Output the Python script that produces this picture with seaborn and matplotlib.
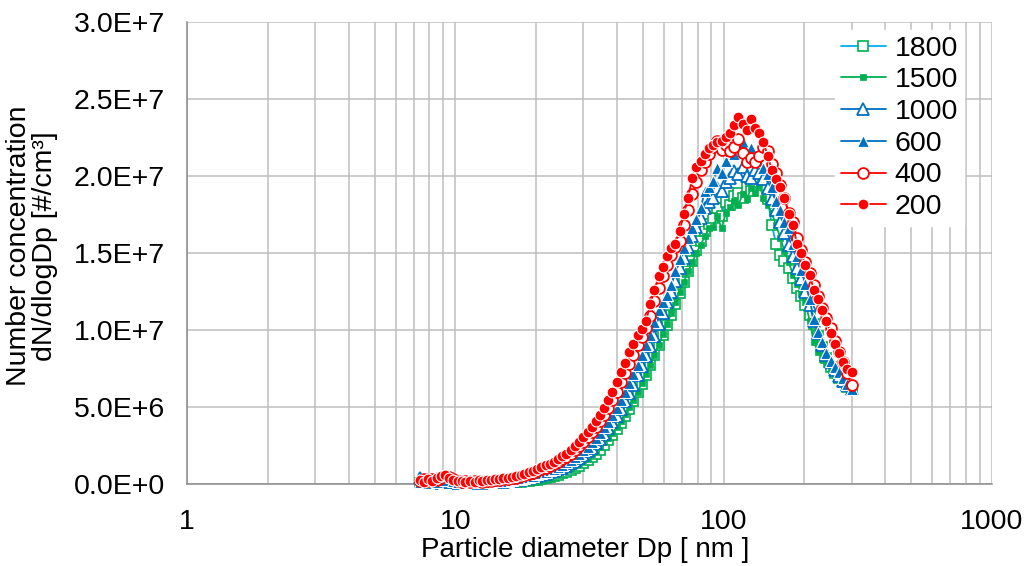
import matplotlib
matplotlib.use("Agg")
import numpy as np
import pandas as pd
import matplotlib.pyplot as plt
from matplotlib.ticker import FixedLocator, FuncFormatter, NullFormatter
import seaborn as sns

# Particle diameter bins [nm]
diameter_nm = [
    7.37, 7.64, 7.91, 8.20, 8.51, 8.82, 9.14, 9.47, 9.82, 10.2,
    10.6, 10.9, 11.3, 11.8, 12.2, 12.6, 13.1, 13.6, 14.1, 14.6,
    15.1, 15.7, 16.3, 16.8, 17.5, 18.1, 18.8, 19.5, 20.2, 20.9,
    21.7, 22.5, 23.3, 24.1, 25.0, 25.9, 26.9, 27.9, 28.9, 30.0,
    31.1, 32.2, 33.4, 34.6, 35.9, 37.2, 38.5, 40.0, 41.4, 42.9,
    44.5, 46.1, 47.8, 49.6, 51.4, 53.3, 55.2, 57.3, 59.4, 61.5,
    63.8, 66.1, 68.5, 71.0, 73.7, 76.4, 79.1, 82.0, 85.1, 88.2,
    91.4, 94.7, 98.2, 101.8, 105.5, 109.4, 113.4, 117.6, 121.9, 126.3,
    131.0, 135.8, 140.7, 145.9, 151.2, 156.8, 162.5, 168.5, 174.7, 181.1,
    187.7, 194.6, 201.7, 209.1, 216.7, 224.7, 232.9, 241.4, 250.3, 259.5,
    269.0, 278.8, 289.0, 299.6,
]

# dN/dlogDp in units of 1E+6 #/cm3
conc_1800 = [
    0.05, 0.20, 0.08, 0.15, 0.05, 0.22, 0.10, 0.28, 0.08, 0.12,
    0.05, 0.08, 0.04, 0.06, 0.05, 0.06, 0.06, 0.07, 0.07, 0.08,
    0.09, 0.10, 0.11, 0.13, 0.15, 0.17, 0.20, 0.24, 0.28, 0.33,
    0.38, 0.45, 0.52, 0.60, 0.70, 0.80, 0.92, 1.05, 1.20, 1.36,
    1.55, 1.75, 1.98, 2.24, 2.52, 2.84, 3.18, 3.56, 3.98, 4.42,
    4.90, 5.42, 5.95, 6.52, 7.10, 7.72, 8.35, 9.00, 9.65, 10.3,
    11.0, 11.7, 12.4, 13.1, 13.8, 14.5, 15.2, 15.8, 16.4, 16.9,
    17.3, 17.9, 17.4, 18.3, 18.1, 18.7, 18.9, 18.6, 19.3, 19.0,
    19.6, 19.9, 19.4, 18.5, 16.8, 15.6, 14.9, 14.5, 14.0, 13.4,
    12.7, 12.2, 11.6, 11.0, 10.4, 9.6, 8.9, 8.2, 7.6, 7.2,
    6.9, 6.6, 6.3, 6.1,
]
conc_1500 = [
    0.15, 0.05, 0.20, 0.10, 0.25, 0.12, 0.30, 0.10, 0.18, 0.05,
    0.10, 0.06, 0.08, 0.05, 0.08, 0.07, 0.09, 0.08, 0.10, 0.10,
    0.12, 0.13, 0.15, 0.18, 0.21, 0.24, 0.28, 0.33, 0.38, 0.44,
    0.50, 0.57, 0.65, 0.74, 0.84, 0.95, 1.07, 1.21, 1.36, 1.53,
    1.72, 1.93, 2.16, 2.42, 2.70, 3.00, 3.34, 3.70, 4.10, 4.52,
    4.98, 5.48, 6.00, 6.55, 7.15, 7.75, 8.40, 9.05, 9.75, 10.4,
    11.1, 11.8, 12.5, 13.1, 13.8, 14.4, 15.0, 15.5, 16.1, 16.6,
    16.7, 17.4, 16.6, 17.6, 18.0, 18.4, 18.1, 18.8, 18.5, 19.2,
    18.9, 19.4, 18.6, 18.1, 17.6, 16.8, 16.0, 15.1, 14.4, 13.6,
    13.0, 12.4, 11.8, 10.6, 9.2, 8.6, 8.1, 7.8, 7.4, 7.1,
    6.9, 6.6, 6.4, 6.2,
]
conc_1000 = [
    0.40, 0.10, 0.25, 0.05, 0.30, 0.15, 0.20, 0.10, 0.30, 0.08,
    0.12, 0.05, 0.10, 0.08, 0.10, 0.09, 0.12, 0.11, 0.14, 0.13,
    0.16, 0.18, 0.21, 0.24, 0.28, 0.33, 0.38, 0.44, 0.51, 0.58,
    0.66, 0.75, 0.84, 0.95, 1.07, 1.20, 1.35, 1.52, 1.70, 1.90,
    2.12, 2.37, 2.64, 2.94, 3.26, 3.62, 4.00, 4.42, 4.88, 5.38,
    5.90, 6.45, 7.05, 7.65, 8.30, 8.95, 9.60, 10.4, 11.1, 11.8,
    12.5, 13.2, 14.0, 14.7, 15.4, 16.1, 16.7, 17.3, 17.9, 18.3,
    18.6, 19.2, 19.0, 19.6, 19.9, 20.3, 20.1, 20.6, 20.0, 19.9,
    20.4, 20.2, 19.8, 19.2, 18.5, 17.8, 17.0, 16.3, 15.5, 14.8,
    14.0, 13.3, 12.5, 11.6, 10.6, 9.8, 9.0, 8.4, 7.9, 7.4,
    7.0, 6.7, 6.4, 6.2,
]
conc_600 = [
    0.10, 0.30, 0.05, 0.20, 0.15, 0.35, 0.25, 0.45, 0.20, 0.10,
    0.15, 0.08, 0.12, 0.10, 0.14, 0.12, 0.15, 0.14, 0.18, 0.17,
    0.20, 0.22, 0.26, 0.30, 0.34, 0.40, 0.46, 0.54, 0.62, 0.70,
    0.80, 0.90, 1.00, 1.12, 1.26, 1.40, 1.56, 1.75, 1.96, 2.18,
    2.42, 2.70, 3.00, 3.32, 3.68, 4.05, 4.48, 4.95, 5.45, 6.00,
    6.55, 7.15, 7.75, 8.40, 9.05, 9.70, 10.5, 11.3, 11.8, 12.3,
    12.9, 13.8, 14.6, 15.3, 16.0, 16.6, 17.2, 17.9, 19.0, 19.3,
    19.7, 20.5, 20.2, 21.0, 21.6, 21.4, 22.0, 22.2, 21.5, 21.8,
    21.2, 21.0, 20.5, 20.1, 19.3, 18.4, 17.8, 17.0, 16.6, 15.6,
    14.8, 13.9, 13.0, 12.0, 10.7, 9.9, 9.2, 8.5, 8.0, 7.6,
    7.3, 6.9, 6.5, 6.2,
]
conc_400 = [
    0.20, 0.30, 0.18, 0.35, 0.28, 0.40, 0.55, 0.48, 0.30, 0.20,
    0.15, 0.22, 0.12, 0.20, 0.18, 0.15, 0.22, 0.20, 0.26, 0.24,
    0.30, 0.33, 0.38, 0.42, 0.50, 0.56, 0.64, 0.74, 0.84, 0.95,
    1.05, 1.18, 1.30, 1.45, 1.60, 1.78, 1.98, 2.20, 2.45, 2.72,
    3.02, 3.35, 3.70, 4.08, 4.50, 4.95, 5.45, 6.00, 6.60, 7.20,
    7.80, 8.40, 9.00, 9.55, 10.1, 10.9, 11.9, 12.7, 13.5, 14.2,
    14.9, 15.4, 15.8, 16.8, 17.8, 18.8, 19.6, 20.4, 20.9, 21.4,
    21.9, 22.3, 21.7, 22.0, 21.6, 21.9, 22.4, 21.5, 20.9, 21.2,
    20.9, 21.3, 21.9, 21.6, 20.8, 20.2, 19.4, 18.6, 17.6, 17.0,
    16.0, 15.2, 14.4, 13.7, 12.9, 12.2, 11.4, 10.8, 10.1, 9.3,
    8.6, 7.9, 7.2, 6.4,
]
conc_200 = [
    0.25, 0.12, 0.30, 0.22, 0.38, 0.50, 0.58, 0.42, 0.28, 0.18,
    0.22, 0.14, 0.20, 0.16, 0.24, 0.20, 0.27, 0.25, 0.32, 0.30,
    0.36, 0.40, 0.45, 0.50, 0.58, 0.66, 0.78, 0.86, 0.98, 1.08,
    1.22, 1.32, 1.45, 1.62, 1.80, 1.98, 2.22, 2.50, 2.75, 3.05,
    3.40, 3.72, 4.10, 4.50, 4.95, 5.45, 6.00, 6.65, 7.25, 7.85,
    8.55, 9.10, 9.65, 10.05, 10.6, 11.7, 12.6, 13.5, 14.1, 14.8,
    15.3, 15.6, 16.4, 17.5, 18.6, 19.9, 20.6, 21.0, 21.4, 21.8,
    22.0, 22.2, 22.3, 22.5, 22.8, 23.3, 23.8, 23.4, 23.0, 23.7,
    23.1, 22.8, 22.2, 21.3, 20.4, 19.8, 19.3, 18.6, 17.5, 16.8,
    15.6, 15.0, 14.2, 13.6, 12.6, 12.0, 11.3, 10.6, 9.8, 9.1,
    8.5, 7.9, 7.5, 7.3,
]

series_labels = ["1800", "1500", "1000", "600", "400", "200"]
series_values = [conc_1800, conc_1500, conc_1000, conc_600, conc_400, conc_200]

RED = "#FF0000"
BLUE = "#0070C0"
GREEN = "#00B050"
CYAN = "#00B0F0"

series_styles = {
    "1800": dict(color=CYAN, marker="s", markersize=6.5, markerfacecolor="white",
                 markeredgecolor=GREEN, markeredgewidth=1.2),
    "1500": dict(color=GREEN, marker="s", markersize=4.5, markerfacecolor=GREEN,
                 markeredgecolor=GREEN, markeredgewidth=0.5),
    "1000": dict(color=BLUE, marker="^", markersize=9.0, markerfacecolor="white",
                 markeredgecolor=BLUE, markeredgewidth=1.3),
    "600": dict(color=BLUE, marker="^", markersize=9.0, markerfacecolor=BLUE,
                markeredgecolor="white", markeredgewidth=0.8),
    "400": dict(color=RED, marker="o", markersize=7.8, markerfacecolor="white",
                markeredgecolor=RED, markeredgewidth=1.3),
    "200": dict(color=RED, marker="o", markersize=7.8, markerfacecolor=RED,
                markeredgecolor="white", markeredgewidth=0.8),
}

frames = []
for lab, vals in zip(series_labels, series_values):
    frames.append(pd.DataFrame({"Dp": diameter_nm,
                                "dNdlogDp": np.array(vals) * 1e6,
                                "series": lab}))
data = pd.concat(frames, ignore_index=True)

sns.set_theme(style="white")
plt.rcParams["font.family"] = ["Liberation Sans", "DejaVu Sans"]
plt.rcParams["text.color"] = "black"
plt.rcParams["axes.labelcolor"] = "black"

FS = 20.5
W, H = 1025, 566
fig = plt.figure(figsize=(W / 100, H / 100), dpi=100)
fig.patch.set_facecolor("white")
ax = fig.add_axes([187 / W, (H - 484) / H, (992 - 187) / W, (484 - 22) / H])
ax.set_facecolor("white")

for lab in series_labels:
    sub = data[data["series"] == lab]
    sns.lineplot(data=sub, x="Dp", y="dNdlogDp", ax=ax, label=lab,
                 linewidth=1.3, clip_on=False, zorder=3,
                 estimator=None, sort=False, **series_styles[lab])

ax.set_xscale("log")
ax.set_xlim(1, 1000)
ax.set_ylim(0, 3e7)

ax.xaxis.set_major_locator(FixedLocator([1, 10, 100, 1000]))
ax.xaxis.set_minor_locator(FixedLocator(
    [m * d for d in (1, 10, 100) for m in range(2, 10)]))
ax.xaxis.set_major_formatter(FuncFormatter(lambda v, p: f"{v:g}"))
ax.xaxis.set_minor_formatter(NullFormatter())

ax.yaxis.set_major_locator(FixedLocator(np.arange(0, 3.01e7, 5e6)))


def sci_label(v, pos):
    if v == 0:
        return "0.0E+0"
    e = int(np.floor(np.log10(abs(v)) + 1e-9))
    return f"{v / 10 ** e:.1f}E+{e}"


ax.yaxis.set_major_formatter(FuncFormatter(sci_label))

GRID = "#BFBFBF"
AXIS = "#898989"
ax.grid(True, which="both", axis="x", color=GRID, linewidth=1.1)
ax.grid(True, which="major", axis="y", color=GRID, linewidth=1.1)
ax.set_axisbelow(True)

for side in ("top", "right"):
    ax.spines[side].set_visible(False)
for side in ("left", "bottom"):
    ax.spines[side].set_color(AXIS)
    ax.spines[side].set_linewidth(1.1)

ax.tick_params(axis="both", which="major", direction="out", length=5,
               width=1.0, color=AXIS, labelsize=FS, labelcolor="black")
ax.tick_params(axis="y", which="major", pad=11)
ax.tick_params(axis="x", which="major", pad=13)
ax.tick_params(axis="both", which="minor", length=0)

ax.set_xlabel("")
ax.set_ylabel("")

fig.text(585 / W, 1 - 550 / H, "Particle diameter Dp [ nm ]",
         ha="center", va="center", fontsize=20, color="black")
fig.text(32 / W, 1 - 246 / H, "Number concentration\ndN/dlogDp [#/cm³]",
         ha="center", va="center", rotation=90, fontsize=FS, color="black",
         linespacing=1.0, multialignment="center")

handles, labels = ax.get_legend_handles_labels()
leg = ax.legend(handles, labels, loc="upper left",
                bbox_to_anchor=(835 / W, 1 - 30 / H),
                bbox_transform=fig.transFigure,
                fontsize=FS, frameon=True, framealpha=1.0,
                facecolor="white", edgecolor="white", fancybox=False,
                handlelength=1.6, handletextpad=0.3, labelspacing=0.2,
                borderpad=0.2, borderaxespad=0)

fig.savefig("out.png", dpi=100, facecolor="white")
